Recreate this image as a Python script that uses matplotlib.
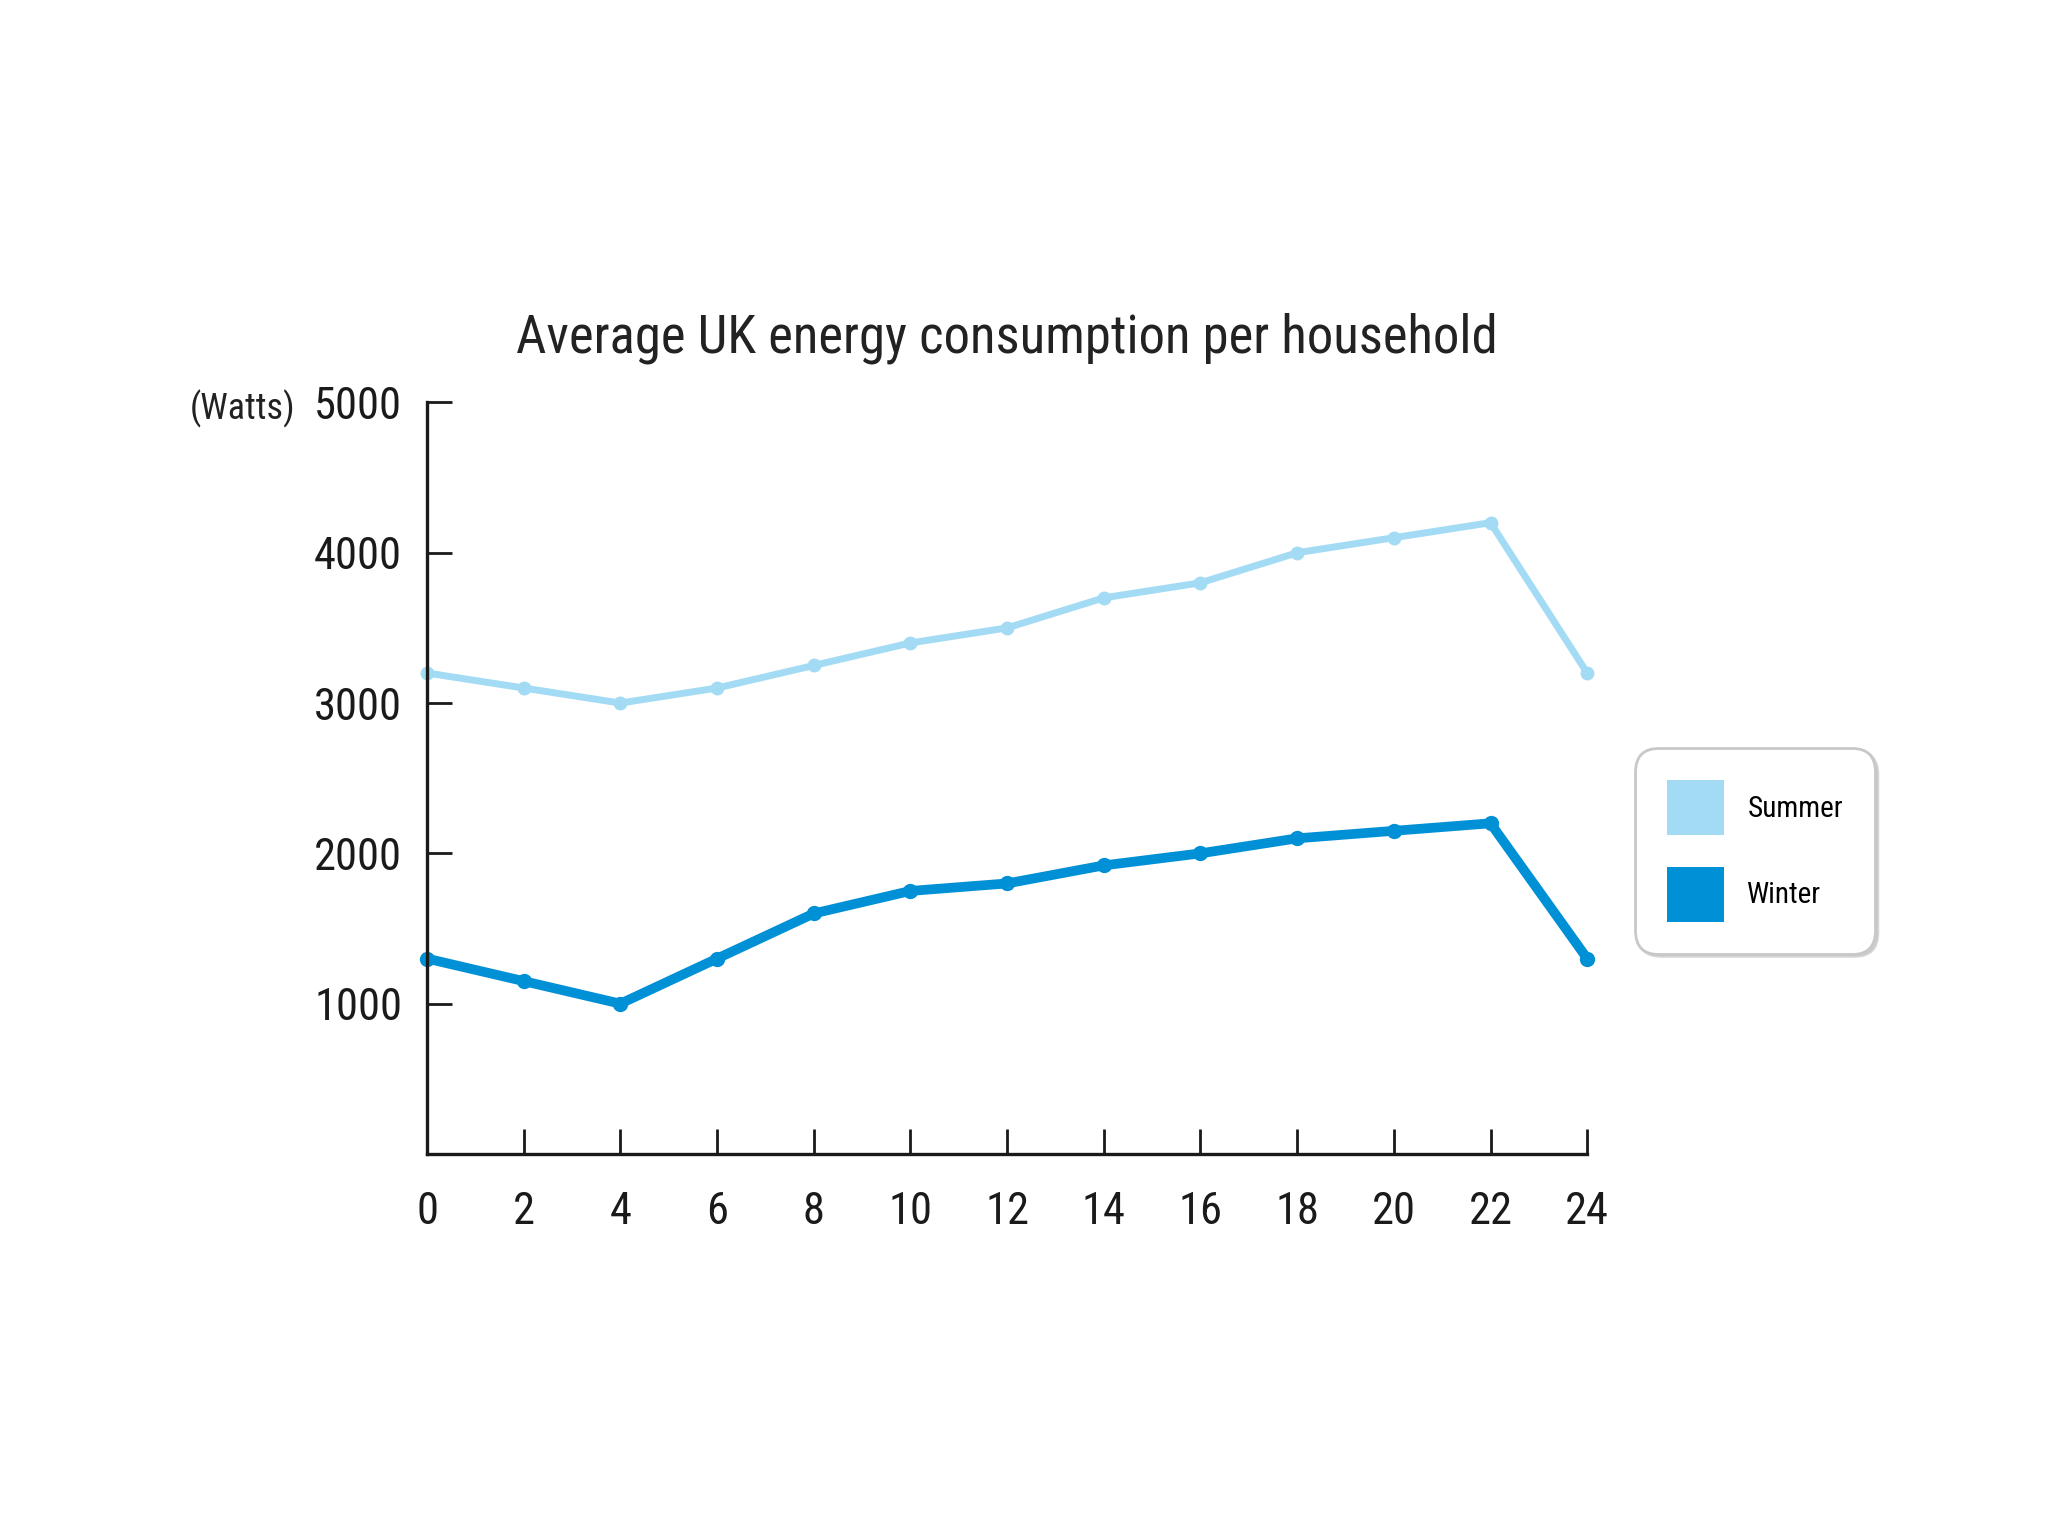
import matplotlib.pyplot as plt
from matplotlib import font_manager
from matplotlib.patches import Patch

# hours of the day
hours = [0, 2, 4, 6, 8, 10, 12, 14, 16, 18, 20, 22, 24]
summer = [3200, 3100, 3000, 3100, 3250, 3400, 3500, 3700, 3800, 4000, 4100, 4200, 3200]
winter = [1300, 1150, 1000, 1300, 1600, 1750, 1800, 1920, 2000, 2100, 2150, 2200, 1300]
y_ticks = [1000, 2000, 3000, 4000, 5000]

summer_color = "#a3dbf5"
winter_color = "#0090d6"

# pick the narrowest installed family we know of
installed = {f.name for f in font_manager.fontManager.ttflist}
font = "DejaVu Sans"
for name in ["Liberation Sans Narrow", "Roboto Condensed", "Liberation Sans", "Roboto"]:
    if name in installed:
        font = name
        break
plt.rcParams["font.family"] = [font, "DejaVu Sans"]

fig = plt.figure(figsize=(20.48, 15.36), dpi=100)
ax = fig.add_axes([0.2085, 0.2487, 0.5665, 0.4893])

ax.plot(hours, summer, color=summer_color, lw=5, marker="o", ms=9,
        clip_on=False, solid_joinstyle="round")
ax.plot(hours, winter, color=winter_color, lw=7, marker="o", ms=10,
        clip_on=False, solid_joinstyle="round")

ax.set_xlim(0, 24)
ax.set_ylim(0, 5000)
ax.set_xticks(hours)
ax.set_yticks(y_ticks)

for side in ["top", "right"]:
    ax.spines[side].set_visible(False)
for side in ["left", "bottom"]:
    ax.spines[side].set_linewidth(2.4)
    ax.spines[side].set_color("#1a1a1a")

ax.tick_params(axis="both", direction="in", length=18, width=2,
               colors="#1a1a1a", labelsize=32)
ax.tick_params(axis="x", pad=27)
ax.tick_params(axis="y", pad=18)

ax.set_title("Average UK energy consumption per household",
             fontsize=38, color="#222222", pad=36)
fig.text(0.1186, 0.734, "(Watts)", fontsize=26, color="#222222",
         ha="center", va="center")

handles = [Patch(facecolor=summer_color, label="Summer"),
           Patch(facecolor=winter_color, label="Winter")]
leg = fig.legend(handles=handles, loc="center", bbox_to_anchor=(0.857, 0.446),
                 fontsize=21, frameon=True, fancybox=True,
                 shadow={"color": "0.75", "alpha": 0.6},
                 handlelength=1.95, handleheight=2.5, handletextpad=0.8,
                 labelspacing=1.1, borderpad=1.1, borderaxespad=0)
frame = leg.get_frame()
frame.set_boxstyle("round,pad=0,rounding_size=0.8")
frame.set_edgecolor("#c8c8c8")
frame.set_linewidth(2)

fig.savefig("out.png", dpi=100, facecolor="white")
